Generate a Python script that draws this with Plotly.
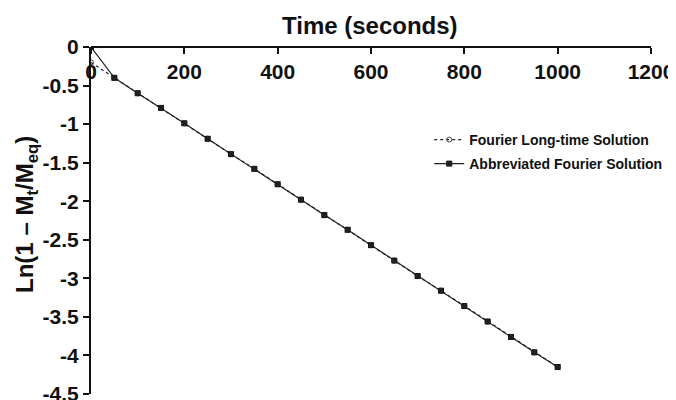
import plotly.graph_objects as go

time_s = [0, 50, 100, 150, 200, 250, 300, 350, 400, 450, 500,
          550, 600, 650, 700, 750, 800, 850, 900, 950, 1000]
fourier_long = [-0.20, -0.40, -0.60, -0.79, -0.99, -1.19, -1.39, -1.58, -1.78, -1.98, -2.18,
                -2.37, -2.57, -2.77, -2.97, -3.16, -3.36, -3.56, -3.76, -3.96, -4.15]
abbreviated = [0.0, -0.40, -0.60, -0.79, -0.99, -1.19, -1.39, -1.58, -1.78, -1.98, -2.18,
               -2.37, -2.57, -2.77, -2.97, -3.16, -3.36, -3.56, -3.76, -3.96, -4.15]
x_ticks = [0, 200, 400, 600, 800, 1000, 1200]
y_ticks = [0, -0.5, -1, -1.5, -2, -2.5, -3, -3.5, -4, -4.5]
y_tick_text = ["0", "-0.5", "-1", "-1.5", "-2", "-2.5", "-3", "-3.5", "-4", "-4.5"]

FONT = "Arial, Liberation Sans, sans-serif"

fig = go.Figure()
fig.add_trace(go.Scatter(
    x=time_s, y=fourier_long, mode="lines+markers",
    name="<b>Fourier Long-time Solution</b>", legend="legend",
    line=dict(color="#222", width=1.2, dash="dot"),
    marker=dict(symbol="circle-open", size=5, color="#444", line=dict(width=1)),
))
fig.add_trace(go.Scatter(
    x=time_s, y=abbreviated, mode="lines+markers",
    name="<b>Abbreviated Fourier Solution</b>", legend="legend2",
    line=dict(color="#222", width=1.2),
    marker=dict(symbol="square-x", size=5, color="#333", line=dict(width=1, color="#111")),
))

leg_common = dict(xanchor="left", yanchor="middle", bgcolor="rgba(0,0,0,0)",
                  font=dict(size=14, family=FONT, color="#111"))

# the page body adds an 8px offset; margins compensate for it
fig.update_layout(
    width=676, height=400,
    margin=dict(l=83, r=33, t=39, b=14, autoexpand=False),
    paper_bgcolor="white", plot_bgcolor="white",
    font=dict(family=FONT, color="#111"),
    showlegend=True,
    legend=dict(x=0.604, y=(394 - 140) / 347, **leg_common),
    legend2=dict(x=0.604, y=(394 - 164) / 347, **leg_common),
    xaxis=dict(range=[0, 1200], tickvals=x_ticks, ticktext=[f"<b>{v}</b>" for v in x_ticks],
               anchor="free", position=1, side="bottom", automargin=False,
               showline=True, linecolor="#111", linewidth=2,
               ticks="outside", ticklen=6, tickwidth=2, tickcolor="#111",
               showgrid=False, zeroline=False,
               tickfont=dict(size=21, family=FONT, color="#111")),
    yaxis=dict(range=[-4.5, 0], tickvals=y_ticks, ticktext=[f"<b>{t}</b>" for t in y_tick_text],
               automargin=False,
               showline=True, linecolor="#111", linewidth=2,
               ticks="outside", ticklen=6, tickwidth=2, tickcolor="#111",
               showgrid=False, zeroline=False,
               tickfont=dict(size=21, family=FONT, color="#111")),
    annotations=[
        dict(text="<b>Time (seconds)</b>", xref="paper", yref="paper",
             x=(370 - 91) / 560, y=1, yshift=22, xanchor="center", yanchor="middle",
             showarrow=False, font=dict(size=24, family=FONT, color="#111")),
        dict(text="<b>Ln(1 – M<sub>t</sub>/M<sub>eq</sub>)</b>", xref="paper", yref="paper",
             x=(27 - 91) / 560, y=0.516, xanchor="center", yanchor="middle", textangle=-90,
             showarrow=False, font=dict(size=24, family=FONT, color="#111")),
    ],
)

fig.write_html("out.html")
